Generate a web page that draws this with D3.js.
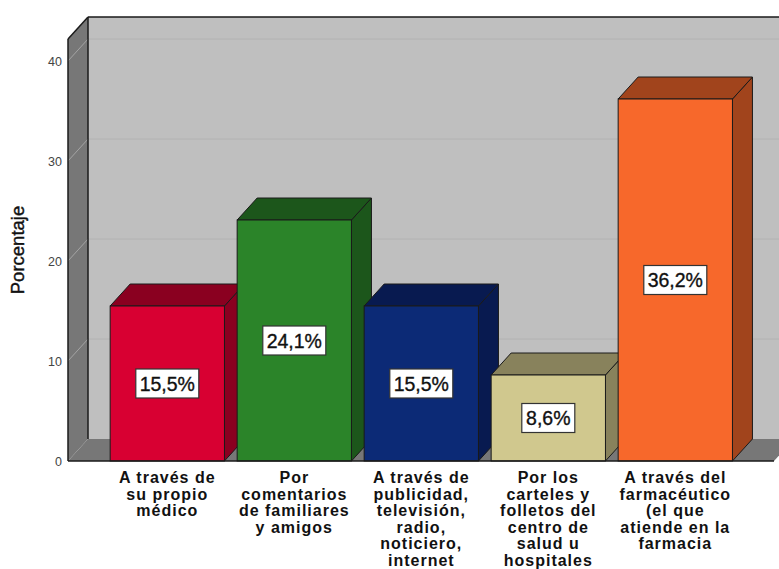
<!DOCTYPE html>
<html><head><meta charset="utf-8">
<script src="https://cdn.jsdelivr.net/npm/d3@7/dist/d3.min.js"></script>
<style>
html,body{margin:0;padding:0;background:#fff}
svg{display:block}
text{font-family:"Liberation Sans",Arial,sans-serif}
</style></head><body>
<svg id="c" width="779" height="569"></svg>
<script>
const categories = ["A través de su propio médico","Por comentarios de familiares y amigos","A través de publicidad, televisión, radio, noticiero, internet","Por los carteles y folletos del centro de salud u hospitales","A través del farmacéutico (el que atiende en la farmacia"];
const categoryLines = [
  ["A través de","su propio","médico"],
  ["Por","comentarios","de familiares","y amigos"],
  ["A través de","publicidad,","televisión,","radio,","noticiero,","internet"],
  ["Por los","carteles y","folletos del","centro de","salud u","hospitales"],
  ["A través del","farmacéutico","(el que","atiende en la","farmacia"]
];
const values = [15.5,24.1,15.5,8.6,36.2];
const valueLabels = ["15,5%","24,1%","15,5%","8,6%","36,2%"];
const frontColors = ["#d80032","#2b8429","#0c2a76","#d0c88e","#f7682b"];
const topColors = ["#8a0020","#1c561b","#081a50","#88825c","#a1441c"];
const yTicks = [0,10,20,30,40];
const yTitle = "Porcentaje";

const svg = d3.select("#c");
const depthX = 20, depthY = -22;
const y = d3.scaleLinear().domain([0,42.2]).range([461,39]);
const x = d3.scaleBand().domain(categories).range([103.8,738.8]).paddingInner(0.1).paddingOuter(0.05);
const edge = "#1a1a1a";
const left = 68, right = 774;

svg.append("rect").attr("x",left+depthX).attr("y",y(y.domain()[1])+depthY)
  .attr("width",779-left-depthX+10).attr("height",y(0)-y(y.domain()[1])).attr("fill","#bfbfbf");
const pts = a => a.map(p=>p.join(",")).join(" ");
svg.append("polygon").attr("points",pts([[left,y(0)],[left+depthX,y(0)+depthY],[right+depthX,y(0)+depthY],[right,y(0)]])).attr("fill","#777");
svg.append("polygon").attr("points",pts([[left,y(0)],[left,y(42.2)],[left+depthX,y(42.2)+depthY],[left+depthX,y(0)+depthY]])).attr("fill","#777");
yTicks.slice(1).forEach(t=>{
  svg.append("line").attr("x1",left+depthX).attr("x2",779).attr("y1",y(t)+depthY).attr("y2",y(t)+depthY).attr("stroke","#b2b2b2").attr("stroke-width",1);
  svg.append("line").attr("x1",left).attr("x2",left+depthX).attr("y1",y(t)).attr("y2",y(t)+depthY).attr("stroke","#a4a4a4").attr("stroke-width",1);
});
const frame = svg.append("g").attr("stroke",edge).attr("fill","none").attr("stroke-width",1.5);
frame.append("line").attr("x1",left+depthX).attr("x2",left+depthX).attr("y1",y(42.2)+depthY).attr("y2",y(0)+depthY);
frame.append("line").attr("x1",left+depthX).attr("x2",779).attr("y1",y(42.2)+depthY).attr("y2",y(42.2)+depthY);
frame.append("line").attr("x1",left).attr("x2",left).attr("y1",y(0)).attr("y2",y(42.2));
frame.append("line").attr("x1",left).attr("x2",left+depthX).attr("y1",y(42.2)).attr("y2",y(42.2)+depthY);

const axis = d3.axisLeft(y).tickValues(yTicks).tickSize(0).tickPadding(6);
const ag = svg.append("g").attr("transform",`translate(${left},0)`).call(axis);
ag.select(".domain").remove();
ag.selectAll("text").attr("font-size",12.5).attr("fill","#444").style("font-family",'"Liberation Sans",Arial,sans-serif');

const bars = svg.selectAll("g.bar").data(categories).enter().append("g").attr("class","bar");
bars.each(function(c,i){
  const g = d3.select(this);
  const x0 = x(c), x1 = x0 + x.bandwidth(), yt = y(values[i]), yb = y(0);
  g.append("polygon").attr("points",pts([[x1,yb],[x1,yt],[x1+depthX,yt+depthY],[x1+depthX,yb+depthY]]))
    .attr("fill",topColors[i]).attr("stroke",edge).attr("stroke-width",1).attr("stroke-linejoin","round");
  g.append("polygon").attr("points",pts([[x0,yt],[x0+depthX,yt+depthY],[x1+depthX,yt+depthY],[x1,yt]]))
    .attr("fill",topColors[i]).attr("stroke",edge).attr("stroke-width",1).attr("stroke-linejoin","round");
  g.append("rect").attr("x",x0).attr("y",yt).attr("width",x.bandwidth()).attr("height",yb-yt)
    .attr("fill",frontColors[i]).attr("stroke",edge).attr("stroke-width",1);
});
svg.append("line").attr("x1",left).attr("x2",right).attr("y1",y(0)).attr("y2",y(0)).attr("stroke",edge).attr("stroke-width",1.5);

bars.each(function(c,i){
  const g = d3.select(this);
  const cx = x(c)+x.bandwidth()/2, cy = y(values[i]/2);
  const w = valueLabels[i].length>4 ? 63 : 53;
  g.append("rect").attr("x",cx-w/2).attr("y",cy-14.5).attr("width",w).attr("height",29)
    .attr("fill","#fff").attr("stroke","#333").attr("stroke-width",1.2);
  g.append("text").attr("x",cx).attr("y",cy+7).attr("text-anchor","middle").attr("font-size",19.5)
    .attr("fill","#111").attr("stroke","#111").attr("stroke-width",0.35).text(valueLabels[i]);
});

categories.forEach((c,i)=>{
  const t = svg.append("text").attr("text-anchor","middle").attr("font-weight","bold").attr("font-size",16).attr("letter-spacing",1).attr("fill","#111");
  categoryLines[i].forEach((l,j)=>{
    t.append("tspan").attr("x",x(c)+x.bandwidth()/2).attr("y",483+j*16.5).text(l);
  });
});

svg.append("text").attr("transform","translate(24,250) rotate(-90)").attr("text-anchor","middle")
  .attr("font-size",18.5).attr("fill","#111").attr("stroke","#111").attr("stroke-width",0.4).text(yTitle);
</script>
</body></html>
